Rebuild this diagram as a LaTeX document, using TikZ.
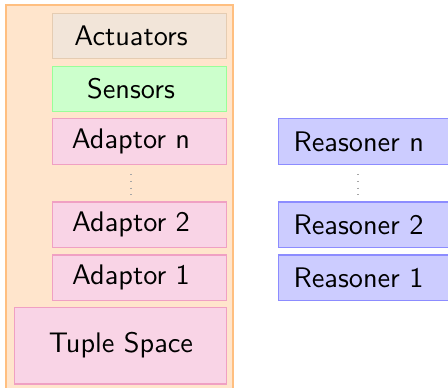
\documentclass[tikz,border=0pt]{standalone}
\usepackage{tikz}
\definecolor{adfill}{RGB}{249,212,230}
\definecolor{addraw}{RGB}{240,160,195}
\tikzset{
  px/.style={x=0.3534pt,y=-0.3534pt},
  box/.style={rectangle,inner sep=0pt,line width=0.4pt,anchor=north west},
  actbox/.style={box,fill=brown!20,draw=brown!40},
  senbox/.style={box,fill=green!20,draw=green!40},
  adbox/.style={box,fill=adfill,draw=addraw},
  rsbox/.style={box,fill=blue!20,draw=blue!45},
  lbl/.style={inner sep=0pt,font=\sffamily},
  vdotline/.style={draw=gray!70,line width=0.5pt,dash pattern=on 0.5pt off 1.9pt}
}
\begin{document}
\begin{tikzpicture}[px]
\useasboundingbox (0,0) rectangle (448,388);
\clip (0,0) rectangle (448,388);

% framework container
\draw[fill=orange!20,draw=orange!50,line width=0.5pt] (6,5) rectangle (233,420);

% framework layers (box sizes given in the same px units)
\node[actbox,minimum width=61.7pt,minimum height=15.9pt] (act) at (51.5,13) {};
\node[lbl] (actT) at (131,35.5) {Actuators};
\node[senbox,minimum width=61.7pt,minimum height=15.9pt] (sen) at (51.5,66) {};
\node[lbl] (senT) at (131,88.5) {Sensors};
\node[adbox,minimum width=61.7pt,minimum height=16.2pt] (adn) at (51.5,118) {};
\node[lbl] (adnT) at (131,141) {Adaptor n};
\node[adbox,minimum width=61.7pt,minimum height=16.1pt] (ad2) at (51.5,201.5) {};
\node[lbl] (ad2T) at (131,224.5) {Adaptor 2};
\node[adbox,minimum width=61.7pt,minimum height=16.1pt] (ad1) at (51.5,254.5) {};
\node[lbl] (ad1T) at (131,277.5) {Adaptor 1};
\node[adbox,minimum width=75.1pt,minimum height=26.9pt] (ts) at (13.5,307.3) {};
\node[lbl] (tsT) at (121,345.3) {Tuple Space};

\coordinate (ldA) at (131,174);
\coordinate (ldB) at (131,195);
\draw[vdotline] (ldA) -- (ldB);

% reasoners, running on past the right-hand edge
\node[rsbox,minimum width=100pt,minimum height=16.2pt] (rsn) at (278,118) {};
\node[lbl,anchor=west] (rsnT) at (293,141.5) {Reasoner n};
\node[rsbox,minimum width=100pt,minimum height=16.1pt] (rs2) at (278,201.5) {};
\node[lbl,anchor=west] (rs2T) at (293,224.5) {Reasoner 2};
\node[rsbox,minimum width=100pt,minimum height=16.1pt] (rs1) at (278,254.5) {};
\node[lbl,anchor=west] (rs1T) at (293,277.5) {Reasoner 1};

\coordinate (rdA) at (358,174);
\coordinate (rdB) at (358,195);
\draw[vdotline] (rdA) -- (rdB);
\end{tikzpicture}
\end{document}
